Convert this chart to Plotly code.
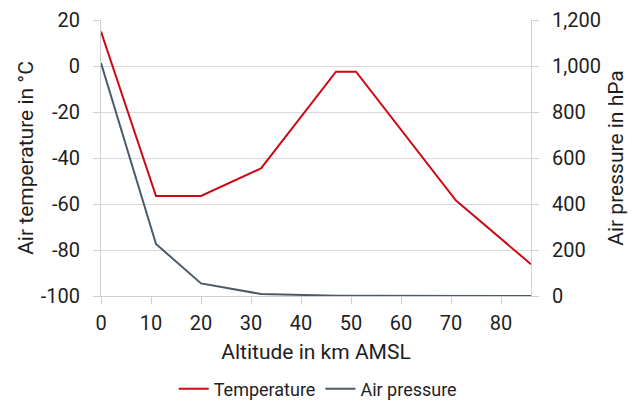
import plotly.graph_objects as go

altitude_km = [0, 11, 20, 32, 47, 51, 71, 86]
temperature_c = [15, -56.5, -56.5, -44.5, -2.5, -2.5, -58.5, -86.2]
pressure_hpa = [1013.25, 226.3, 54.7, 8.7, 1.1, 0.7, 0.04, 0.004]

x_ticks = [0, 10, 20, 30, 40, 50, 60, 70, 80]
temp_ticks = [20, 0, -20, -40, -60, -80, -100]
temp_tick_labels = ["20", "0", "-20", "-40", "-60", "-80", "-100"]
pres_ticks = [0, 200, 400, 600, 800, 1000, 1200]
pres_tick_labels = ["0", "200", "400", "600", "800", "1,000", "1,200"]

RED = "#cc0a14"
GREY = "#4b5a69"
FONT = "Roboto, Liberation Sans, sans-serif"
TXT = "#1e1e1e"

fig = go.Figure()
fig.add_trace(go.Scatter(x=altitude_km, y=temperature_c, mode="lines", name="Temperature",
                         line=dict(color=RED, width=2)))
fig.add_trace(go.Scatter(x=altitude_km, y=pressure_hpa, mode="lines", name="Air pressure",
                         line=dict(color=GREY, width=2), yaxis="y2"))

axis_common = dict(showline=True, linecolor="#d0d0d0", linewidth=1, ticks="outside",
                   tickcolor="#d0d0d0", ticklen=7, tickfont=dict(size=20, color=TXT),
                   ticklabeloverflow="allow", zeroline=False, automargin=False)

fig.update_layout(
    width=625, height=411,
    margin=dict(l=93, r=102, t=12, b=108),
    paper_bgcolor="white", plot_bgcolor="white",
    font=dict(family=FONT, color=TXT),
    xaxis=dict(range=[0, 86], tickvals=x_ticks, showgrid=False, ticklabelstandoff=2,
               title=dict(text="Altitude in km AMSL", font=dict(size=21), standoff=10),
               **axis_common),
    yaxis=dict(range=[-100, 20], tickvals=temp_ticks, ticktext=temp_tick_labels,
               showgrid=True, gridcolor="#d9d9d9", ticklabelstandoff=9,
               title=dict(text="Air temperature in °C", font=dict(size=21), standoff=1),
               **axis_common),
    yaxis2=dict(range=[0, 1200], tickvals=pres_ticks, ticktext=pres_tick_labels,
                overlaying="y", side="right", showgrid=False, ticklabelstandoff=9,
                title=dict(text="Air pressure in hPa", font=dict(size=21), standoff=8),
                **axis_common),
    legend=dict(orientation="h", x=0.504, xanchor="center", y=-0.337, yanchor="middle",
                font=dict(size=18, color=TXT), itemwidth=30),
    showlegend=True,
)

fig.write_html("out.html")
